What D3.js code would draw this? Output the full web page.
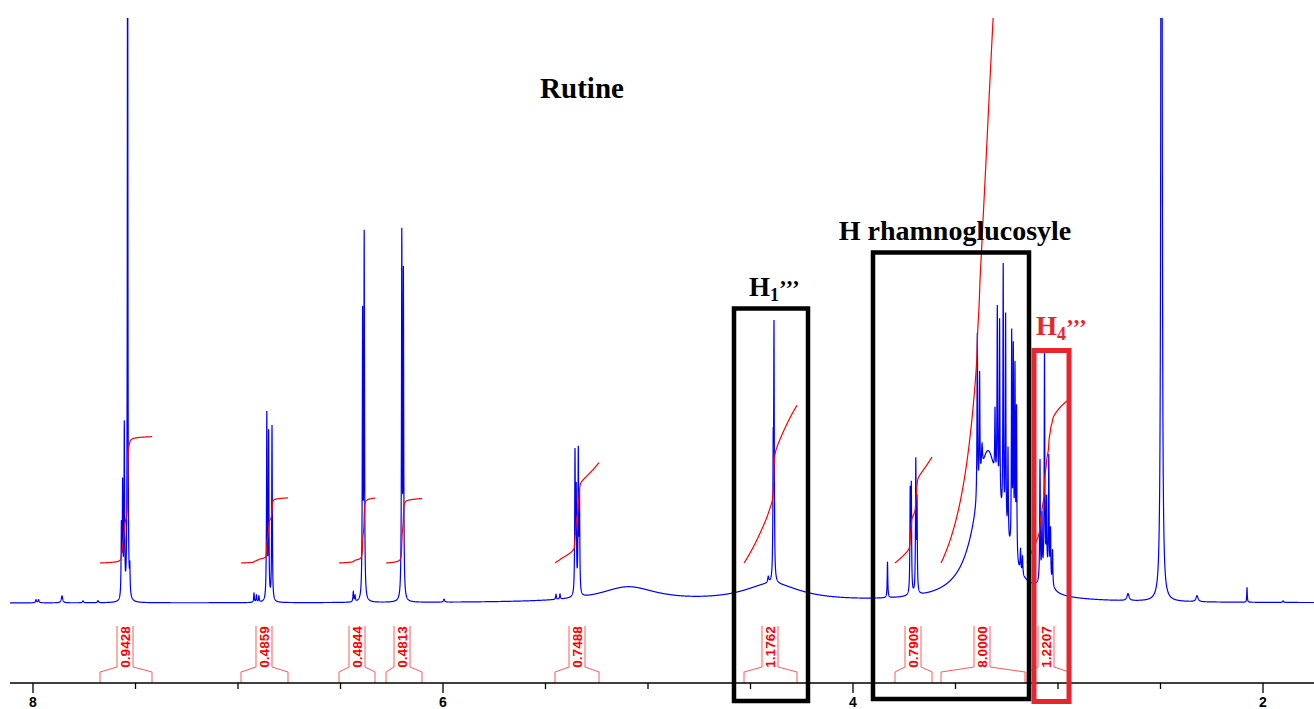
<!DOCTYPE html>
<html>
<head>
<meta charset="utf-8">
<script src="https://cdnjs.cloudflare.com/ajax/libs/d3/7.8.5/d3.min.js"></script>
<style>
body { margin: 0; background: #fff; }
</style>
</head>
<body>
<div id="chart"></div>
<script>
const WIDTH = 1314, HEIGHT = 709;

// line list: position (ppm), height (a.u.), half width (ppm)
const peakPpm = [
    7.5385, 7.5546, 7.5629, 7.5688, 7.5278, 7.8585, 7.9854, 7.973, 7.756, 7.683,
    6.8595, 6.8507, 6.8341, 6.922, 6.910, 6.898,
    6.3922, 6.3844, 6.4376, 6.4293,
    6.2010, 6.1932, 5.995,
    5.3561, 5.3502, 5.3400, 5.3341, 5.4488, 5.4293,
    5.0976, 4.3951,
    4.3854, 4.3893, 4.4132,
    3.8317,
    3.7210, 3.7156, 3.6937, 3.6878,
    3.3415,
    3.3937, 3.3824, 3.3707, 3.3073, 3.2961, 3.2849, 3.2673, 3.2556, 3.2439,
    3.2259, 3.2180, 3.2098, 3.2024, 3.1829, 3.1732,
    3.0585, 3.0878, 3.0780, 3.0659, 3.0561, 3.0449, 3.0366, 3.0268,
    2.4951, 2.6585, 2.3220, 2.0780, 1.902
]
const peakHeight = [
    800, 170, 110, 70, 25, 7, 3, 3, 2, 2,
    185, 165, 175, 9, 7, 6,
    280, 360, 10, 6,
    360, 320, 3,
    140, 100, 140, 95, 5, 5,
    15, 18,
    245, 115, 6,
    36,
    100, 105, 130, 90,
    150,
    165, 110, 25, 65, 180, 180, 255, 215, 90,
    215, 200, 185, 150, 22, 18,
    18, 120, 60, 220, 70, 120, 50, 35,
    2000, 7, 6, 15, 1.5
]
const peakWidth = [
    0.0015, 0.0017, 0.0017, 0.0017, 0.0017, 0.004, 0.003, 0.003, 0.003, 0.003,
    0.0017, 0.0017, 0.0017, 0.002, 0.002, 0.002,
    0.0017, 0.0017, 0.002, 0.002,
    0.0017, 0.0017, 0.003,
    0.0017, 0.0017, 0.0017, 0.0017, 0.002, 0.002,
    0.17, 0.17,
    0.0017, 0.0017, 0.003,
    0.0017,
    0.0017, 0.0017, 0.0017, 0.0017,
    0.075,
    0.0017, 0.0017, 0.003, 0.0017, 0.0017, 0.0017, 0.0017, 0.0017, 0.0017,
    0.0017, 0.0017, 0.0017, 0.0017, 0.002, 0.002,
    0.025, 0.0017, 0.0017, 0.0017, 0.0017, 0.0017, 0.0017, 0.0017,
    0.0022, 0.006, 0.006, 0.0015, 0.003
]

// integrals
const integralValues = [0.9428, 0.4859, 0.4844, 0.4813, 0.7488, 1.1762, 0.7909, 8.0000, 1.2207]
const integralFrom = [7.6732, 6.9854, 6.5073, 6.2780, 5.4537, 4.5317, 3.7951, 3.5707, 3.1512]
const integralTo = [7.4195, 6.7561, 6.3317, 6.1024, 5.2390, 4.2732, 3.6146, 3.1610, 2.9463]
const integralLabelPpm = [7.5512, 6.8732, 6.4195, 6.2000, 5.3463, 4.4049, 3.7073, 3.3707, 3.0585]

// axis
const tickPpm = [8, 7.5, 7, 6.5, 6, 5.5, 5, 4.5, 4, 3.5, 3, 2.5, 2]
const tickLabels = [8, 6, 4, 2]

const svg = d3.select("#chart").append("svg").attr("width", WIDTH).attr("height", HEIGHT)

const x = d3.scaleLinear().domain([8, 2]).range([33, 1263])
const y = d3.scaleLinear().domain([0, 585]).range([603, 18])
const yInt = d3.scaleLinear().domain([0, 1]).range([563, 429])

svg.append("clipPath").attr("id", "plot").append("rect")
    .attr("x", 10).attr("y", 18).attr("width", WIDTH - 10).attr("height", 640)

// sample spectrum from the line list
const ppmMax = x.invert(10), ppmMin = x.invert(WIDTH)
let grid = d3.range(ppmMax, ppmMin, -0.0004).concat(peakPpm)
grid.sort((a, b) => b - a)
const spectrum = grid.map(p => {
    let v = 0
    for (let i = 0; i < peakPpm.length; i++) {
        const d = (p - peakPpm[i]) / peakWidth[i]
        v += peakHeight[i] / (1 + d * d)
    }
    return [p, v]
})

const line = d3.line().x(d => x(d[0])).y(d => y(d[1]))
const g = svg.append("g").attr("clip-path", "url(#plot)")

g.append("path").attr("d", line(spectrum)).attr("fill", "none")
    .attr("stroke", "#0000ff").attr("stroke-width", 1.2)

// integral curves
integralValues.forEach((val, k) => {
    const pts = spectrum.filter(d => d[0] <= integralFrom[k] && d[0] >= integralTo[k])
    let cum = [0]
    for (let i = 1; i < pts.length; i++) {
        cum.push(cum[i - 1] + (pts[i - 1][1] + pts[i][1]) / 2 * (pts[i - 1][0] - pts[i][0]))
    }
    const total = cum[cum.length - 1]
    const curve = pts.map((d, i) => [d[0], cum[i] / total * val])
    g.append("path").attr("d", d3.line().x(d => x(d[0])).y(d => yInt(d[1]))(curve))
        .attr("fill", "none").attr("stroke", "#ff0000").attr("stroke-width", 1.2)
})

// integral brackets and labels
integralValues.forEach((val, k) => {
    const xl = x(integralFrom[k]), xr = x(integralTo[k]), cx = x(integralLabelPpm[k])
    svg.append("path")
        .attr("d", "M" + xl + ",683V672L" + (cx - 8) + ",667V626M" + (cx + 8) + ",626V667L" + xr + ",672V683")
        .attr("fill", "none").attr("stroke", "#ff5a5a").attr("stroke-width", 1)
    svg.append("text").attr("transform", "translate(" + (cx + 0.5) + ",647) rotate(-90)")
        .attr("text-anchor", "middle").attr("dominant-baseline", "central")
        .attr("font-family", "Liberation Sans, Arial, sans-serif").attr("font-weight", "bold")
        .attr("font-size", 13.5).attr("fill", "#ff0000").text(d3.format(".4f")(val))
})

// x axis
svg.append("line").attr("x1", 10).attr("x2", WIDTH).attr("y1", 683).attr("y2", 683)
    .attr("stroke", "#000").attr("stroke-width", 1.5)
tickPpm.forEach(t => {
    const big = tickLabels.includes(t)
    svg.append("line").attr("x1", x(t)).attr("x2", x(t)).attr("y1", 683).attr("y2", big ? 693 : 689)
        .attr("stroke", "#000").attr("stroke-width", 1.3)
    if (big) {
        svg.append("text").attr("x", x(t)).attr("y", 707).attr("text-anchor", "middle")
            .attr("font-family", "Liberation Sans, Arial, sans-serif").attr("font-weight", "bold")
            .attr("font-size", 14).text(t)
    }
})

// annotation boxes
const serif = "Liberation Serif, Times New Roman, serif"
svg.append("rect").attr("x", 734).attr("y", 308.5).attr("width", 74).attr("height", 392.5)
    .attr("fill", "none").attr("stroke", "#000").attr("stroke-width", 4.5)
svg.append("rect").attr("x", 873).attr("y", 252.5).attr("width", 156).attr("height", 446.5)
    .attr("fill", "none").attr("stroke", "#000").attr("stroke-width", 4.5)
svg.append("rect").attr("x", 1034).attr("y", 350.5).attr("width", 35).attr("height", 351)
    .attr("fill", "none").attr("stroke", "#e8242c").attr("stroke-width", 5)

// labels
svg.append("text").attr("x", 582).attr("y", 98).attr("text-anchor", "middle")
    .attr("font-family", serif).attr("font-weight", "bold").attr("font-size", 29).text("Rutine")
svg.append("text").attr("x", 955).attr("y", 240).attr("text-anchor", "middle")
    .attr("font-family", serif).attr("font-weight", "bold").attr("font-size", 28).text("H rhamnoglucosyle")

const h1 = svg.append("text").attr("x", 749).attr("y", 296)
    .attr("font-family", serif).attr("font-weight", "bold").attr("font-size", 27).attr("fill", "#000")
h1.append("tspan").text("H")
h1.append("tspan").attr("font-size", 18).attr("dy", 5).text("1")
h1.append("tspan").attr("font-size", 23).attr("dy", -5).attr("letter-spacing", 0.5).text("’’’")

const h4 = svg.append("text").attr("x", 1036).attr("y", 335)
    .attr("font-family", serif).attr("font-weight", "bold").attr("font-size", 27).attr("fill", "#e8242c")
h4.append("tspan").text("H")
h4.append("tspan").attr("font-size", 18).attr("dy", 5).text("4")
h4.append("tspan").attr("font-size", 23).attr("dy", -5).attr("letter-spacing", 0.5).text("’’’")
</script>
</body>
</html>
